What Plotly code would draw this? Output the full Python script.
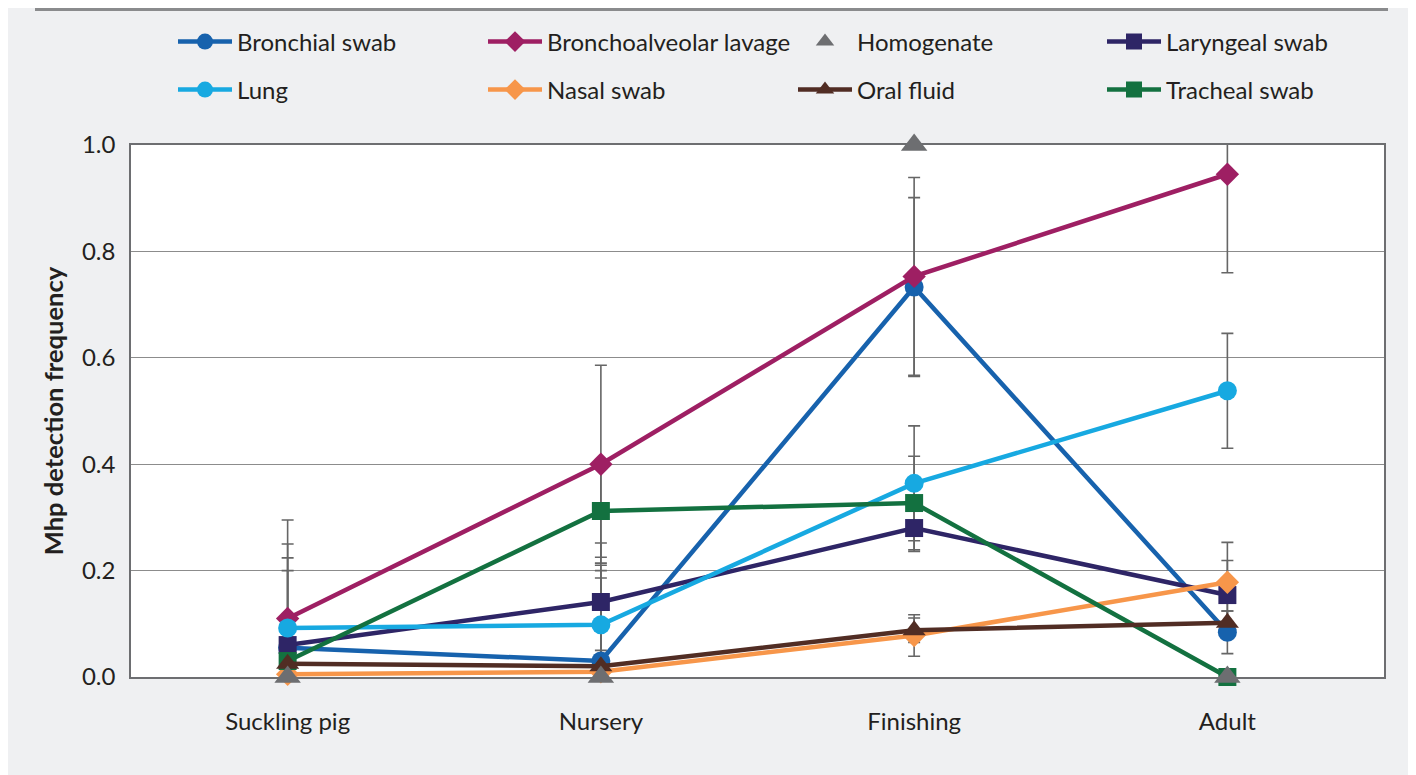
import plotly.graph_objects as go

categories = ["Suckling pig", "Nursery", "Finishing", "Adult"]

series_names = ["Bronchial swab", "Bronchoalveolar lavage", "Homogenate", "Laryngeal swab",
                "Lung", "Nasal swab", "Oral fluid", "Tracheal swab"]

bronchial = [0.055, 0.030, 0.733, 0.084]
bronchial_err = [0.145, 0.020, 0.168, 0.040]
bal = [0.110, 0.400, 0.753, 0.945]
bal_err = [0.185, 0.186, 0.186, 0.185]
homogenate = [0.0, 0.0, 1.0, 0.0]
homogenate_err = [0.0, 0.0, 0.0, 0.0]
laryngeal = [0.060, 0.141, 0.280, 0.154]
laryngeal_err = [0.164, 0.111, 0.044, 0.065]
lung = [0.092, 0.098, 0.364, 0.538]
lung_err = [0.158, 0.112, 0.108, 0.108]
nasal = [0.005, 0.010, 0.078, 0.178]
nasal_err = [0.0, 0.176, 0.039, 0.075]
oral = [0.025, 0.020, 0.088, 0.102]
oral_err = [0.0, 0.180, 0.023, 0.022]
tracheal = [0.030, 0.312, 0.327, 0.0]
tracheal_err = [0.0, 0.087, 0.088, 0.0]

values = [bronchial, bal, homogenate, laryngeal, lung, nasal, oral, tracheal]
errors = [bronchial_err, bal_err, homogenate_err, laryngeal_err, lung_err, nasal_err, oral_err, tracheal_err]
colors = ["#1762ad", "#9e1f63", "#6d6e71", "#2e2566", "#17a9e1", "#f7964a", "#512d24", "#137140"]
symbols = ["circle", "diamond", "triangle-up", "square", "circle", "diamond", "triangle-up", "square"]
sizes = [19, 18, 23, 18, 19, 18, 20, 18]

FONT = "Lato"
TXT = "#231f20"
FS = 24

# figure is placed by the page at an 8px offset; coordinates below are figure pixels
W, H = 1408, 767
L, R, T, B = 123, 32, 137, 98
pw, ph = W - L - R, H - T - B


def px_x(p):
    return (p - L) / pw


def px_y(p):
    return (H - B - p) / ph


# legend layout (pixel anchors of each legend box)
legend_cols = [165, 475, 785, 1094]
legend_rows = [34, 82]

fig = go.Figure()

# error bars (clipped to plot area), drawn beneath lines
for name, v, e in zip(series_names, values, errors):
    if not any(e):
        continue
    fig.add_trace(go.Scatter(
        x=categories, y=v, mode="markers", marker=dict(opacity=0, size=1),
        error_y=dict(type="data", array=e, symmetric=True, color="#666666", thickness=1.6, width=6),
        showlegend=False, hoverinfo="skip", cliponaxis=True,
    ))

legend_layouts = {}
draw_order = [0, 1, 3, 4, 5, 7, 6, 2]
for i in draw_order:
    name, v, c, s, sz = series_names[i], values[i], colors[i], symbols[i], sizes[i]
    mode = "markers" if name == "Homogenate" else "lines+markers"
    lg = "legend" if i == 0 else f"legend{i + 1}"
    fig.add_trace(go.Scatter(
        x=categories, y=v, name=name, mode=mode,
        line=dict(color=c, width=4.5),
        marker=dict(color=c, symbol=s, size=sz),
        cliponaxis=False, legend=lg,
    ))
    legend_layouts[lg] = dict(
        x=px_x(legend_cols[i % 4]), y=px_y(legend_rows[i // 4]),
        xanchor="left", yanchor="middle", orientation="h", itemwidth=54,
        font=dict(family=FONT, size=FS, color=TXT), bgcolor="rgba(0,0,0,0)",
        itemclick=False, itemdoubleclick=False,
    )

fig.update_layout(
    width=W, height=H,
    margin=dict(l=L, r=R, t=T, b=B, autoexpand=False),
    paper_bgcolor="#eff0f2", plot_bgcolor="#ffffff",
    font=dict(family=FONT, size=FS, color=TXT),
    xaxis=dict(
        type="category", range=[-0.5, 3.5], showgrid=False,
        showline=True, linecolor="#6d6e71", linewidth=1.5, mirror=True,
        ticks="outside", ticklen=22, tickcolor="rgba(0,0,0,0)",
        tickfont=dict(family=FONT, size=FS, color=TXT),
    ),
    yaxis=dict(
        range=[0, 1], tickvals=[0, 0.2, 0.4, 0.6, 0.8, 1.0], tickformat=".1f",
        showgrid=True, gridcolor="#8c8c8c", gridwidth=1,
        showline=True, linecolor="#6d6e71", linewidth=1.5, mirror=True,
        ticks="outside", ticklen=9, tickcolor="rgba(0,0,0,0)",
        tickfont=dict(family=FONT, size=FS, color=TXT),
        title=dict(text="<b>Mhp detection frequency</b>", font=dict(family=FONT, size=25.5, color=TXT), standoff=11),
        zeroline=False,
    ),
    shapes=[
        dict(type="line", xref="paper", yref="paper", x0=px_x(27), x1=px_x(1380), y0=px_y(1.5), y1=px_y(1.5),
             line=dict(color="#8a8b8d", width=3)),
    ],
    **legend_layouts,
)

fig.write_html("out.html")
